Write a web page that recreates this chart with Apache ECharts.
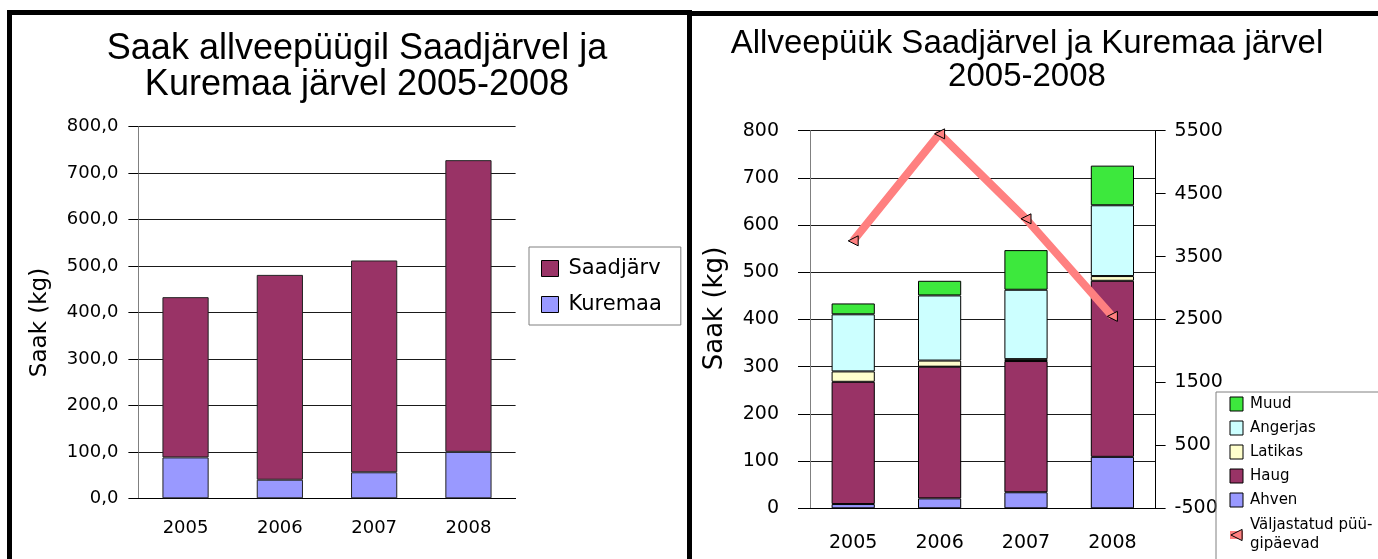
<!DOCTYPE html>
<html>
<head>
<meta charset="utf-8">
<script src="https://cdn.jsdelivr.net/npm/echarts@6/dist/echarts.min.js"></script>
<style>
html,body{margin:0;padding:0;background:#fff;}
#c{width:1378px;height:559px;}
</style>
</head>
<body>
<div id="c"></div>
<script>
// ---- data ----
var years = ['2005', '2006', '2007', '2008'];
// left chart
var kuremaa = [88, 40, 56, 100];
var saadjarv = [345, 441, 456, 628];
// right chart (stacked species, kg)
var ahven = [9, 21, 34, 109];
var haug = [259, 279, 278, 373];
var latikas = [22, 13, 4, 10];
var angerjas = [121, 138, 147, 150];
var muud = [23, 31, 84, 84];
// issued fishing days (right axis)
var puugipaevad = [3750, 5450, 4100, 2550];

var titleLeft = 'Saak allveepüügil Saadjärvel ja\nKuremaa järvel 2005-2008';
var titleRight = 'Allveepüük Saadjärvel ja Kuremaa järvel\n2005-2008';
var lineName = 'Väljastatud püügipäevad';
var lineLegendLabel = 'Väljastatud püü-\ngipäevad';

var F = 'DejaVu Sans';
var FT = 'Liberation Sans';
var chart = echarts.init(document.getElementById('c'), null, {renderer: 'canvas'});

function commaFmt(v) { return v.toFixed(1).replace('.', ','); }
function plainFmt(v) { return String(v); }

var option = {
  backgroundColor: '#ffffff',
  animation: false,
  title: [
    {text: titleLeft, left: 352, top: 26, textAlign: 'center',
     textStyle: {fontFamily: FT, fontSize: 36, fontWeight: 'normal', color: '#000', lineHeight: 36}},
    {text: titleRight, left: 1022, top: 22, textAlign: 'center',
     textStyle: {fontFamily: FT, fontSize: 33, fontWeight: 'normal', color: '#000', lineHeight: 33}}
  ],
  graphic: [
    {type: 'rect', shape: {x: 9.5, y: 12.5, width: 680, height: 620},
     style: {fill: 'none', stroke: '#000', lineWidth: 5}, z: 100},
    {type: 'rect', shape: {x: 689.5, y: 13.5, width: 800, height: 620},
     style: {fill: 'none', stroke: '#000', lineWidth: 5}, z: 100}
  ],
  legend: [
    {data: ['Saadjärv', 'Kuremaa'], orient: 'vertical', left: 529, top: 247,
     padding: [11, 19, 10, 12], itemWidth: 17, itemHeight: 16, itemGap: 15,
     icon: 'rect',
     borderColor: '#808080', borderWidth: 1,
     itemStyle: {borderColor: '#000', borderWidth: 1},
     textStyle: {fontFamily: F, fontSize: 21, color: '#000', padding: [0, 0, 0, 5]}},
    {data: [
       {name: 'Muud', icon: 'rect'}, {name: 'Angerjas', icon: 'rect'},
       {name: 'Latikas', icon: 'rect'}, {name: 'Haug', icon: 'rect'},
       {name: 'Ahven', icon: 'rect'},
       {name: lineName, textStyle: {lineHeight: 19}}],
     orient: 'vertical', left: 1216, top: 392, height: 240,
     padding: [4, 30, 40, 10], itemWidth: 13, itemHeight: 14, itemGap: 8,
     borderColor: '#808080', borderWidth: 1,
     itemStyle: {borderColor: '#000', borderWidth: 1},
     lineStyle: {width: 8, color: '#ff8080'},
     formatter: function (n) { return n === lineName ? lineLegendLabel : n; },
     textStyle: {fontFamily: F, fontSize: 15, color: '#000', lineHeight: 16, padding: [0, 0, 0, 2]}}
  ],
  grid: [
    {left: 138.4, right: 862.4, top: 126.7, bottom: 60.7},
    {left: 810, right: 222.4, top: 130.7, bottom: 50.7}
  ],
  xAxis: [
    {type: 'category', gridIndex: 0, data: years,
     axisLine: {lineStyle: {color: '#000', width: 1}},
     axisTick: {length: 11, lineStyle: {color: '#000'}},
     axisLabel: {margin: 21, fontFamily: F, fontSize: 18, color: '#000'}},
    {type: 'category', gridIndex: 1, data: years,
     axisLine: {lineStyle: {color: '#000', width: 1}},
     axisTick: {length: 12, lineStyle: {color: '#000'}},
     axisLabel: {margin: 25, fontFamily: F, fontSize: 19, color: '#000'}}
  ],
  yAxis: [
    {type: 'value', gridIndex: 0, min: 0, max: 800, interval: 100,
     name: 'Saak (kg)', nameLocation: 'middle', nameGap: 87,
     nameTextStyle: {fontFamily: F, fontSize: 23, color: '#000', padding: [0, 20, 0, 0]},
     axisLine: {show: true, lineStyle: {color: '#808080'}},
     axisTick: {show: true, length: 10, lineStyle: {color: '#000'}},
     axisLabel: {margin: 20, fontFamily: F, fontSize: 18, color: '#000', formatter: commaFmt},
     splitLine: {lineStyle: {color: '#1a1a1a', width: 1}}},
    {type: 'value', gridIndex: 1, min: 0, max: 800, interval: 100,
     name: 'Saak (kg)', nameLocation: 'middle', nameGap: 82,
     nameTextStyle: {fontFamily: F, fontSize: 26, color: '#000', padding: [0, 0, 0, 22]},
     axisLine: {show: true, lineStyle: {color: '#808080'}},
     axisTick: {show: true, length: 12, lineStyle: {color: '#000'}},
     axisLabel: {margin: 31, fontFamily: F, fontSize: 19, color: '#000', formatter: plainFmt},
     splitLine: {lineStyle: {color: '#1a1a1a', width: 1}}},
    {type: 'value', gridIndex: 1, position: 'right', min: -500, max: 5500, interval: 1000,
     axisLine: {show: true, lineStyle: {color: '#000'}},
     axisTick: {show: true, length: 10, lineStyle: {color: '#000'}},
     axisLabel: {margin: 19, fontFamily: F, fontSize: 19, color: '#000', formatter: plainFmt},
     splitLine: {show: false}}
  ],
  series: [
    {name: 'Kuremaa', type: 'bar', stack: 'L', xAxisIndex: 0, yAxisIndex: 0, barWidth: '49%',
     data: kuremaa, itemStyle: {color: '#9999ff', borderColor: '#222', borderWidth: 1}},
    {name: 'Saadjärv', type: 'bar', stack: 'L', xAxisIndex: 0, yAxisIndex: 0, barWidth: '49%',
     data: saadjarv, itemStyle: {color: '#993366', borderColor: '#222', borderWidth: 1}},
    {name: 'Ahven', type: 'bar', stack: 'R', xAxisIndex: 1, yAxisIndex: 1, barWidth: '50%',
     data: ahven, itemStyle: {color: '#9999ff', borderColor: '#000', borderWidth: 1}},
    {name: 'Haug', type: 'bar', stack: 'R', xAxisIndex: 1, yAxisIndex: 1, barWidth: '50%',
     data: haug, itemStyle: {color: '#993366', borderColor: '#000', borderWidth: 1}},
    {name: 'Latikas', type: 'bar', stack: 'R', xAxisIndex: 1, yAxisIndex: 1, barWidth: '50%',
     data: latikas, itemStyle: {color: '#ffffcc', borderColor: '#000', borderWidth: 1}},
    {name: 'Angerjas', type: 'bar', stack: 'R', xAxisIndex: 1, yAxisIndex: 1, barWidth: '50%',
     data: angerjas, itemStyle: {color: '#ccffff', borderColor: '#000', borderWidth: 1}},
    {name: 'Muud', type: 'bar', stack: 'R', xAxisIndex: 1, yAxisIndex: 1, barWidth: '50%',
     data: muud, itemStyle: {color: '#3de83d', borderColor: '#000', borderWidth: 1}},
    {name: lineName, type: 'line', xAxisIndex: 1, yAxisIndex: 2,
     data: puugipaevad, z: 5,
     lineStyle: {color: '#ff8080', width: 8},
     symbol: 'triangle', symbolSize: 10, symbolRotate: 90,
     itemStyle: {color: '#ff8080', borderColor: '#000', borderWidth: 1}}
  ]
};
chart.setOption(option);
</script>
</body>
</html>
